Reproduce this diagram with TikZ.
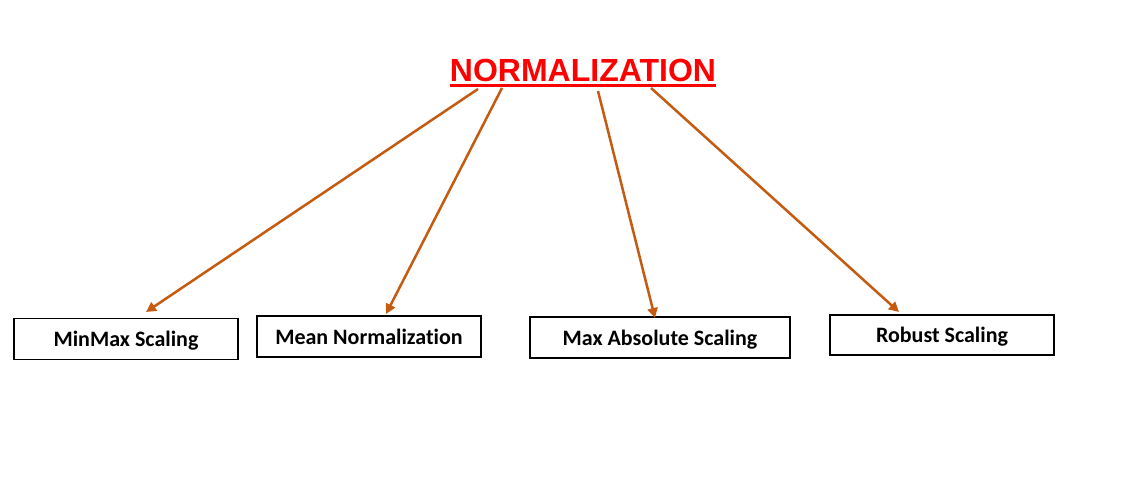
\documentclass[tikz,border=0pt]{standalone}
\usepackage{fontspec}
\setmainfont{Carlito}[Ligatures=NoCommon]
\newfontfamily\titlefont{Liberation Sans}
\usetikzlibrary{arrows.meta}
\definecolor{arr}{HTML}{C55A11}
\definecolor{tred}{HTML}{FF0000}
\begin{document}
\begin{tikzpicture}[x=1pt,y=-1pt,
  box/.style={draw=black,line width=1.6pt,minimum width=224pt,minimum height=41pt,inner sep=0pt,text height=15pt,text depth=0pt,font=\fontsize{22}{24}\selectfont\bfseries},
  conn/.style={draw=arr,line width=2.5pt,-{Triangle[length=10pt,width=10pt]}}]
\useasboundingbox (0,0) rectangle (1143,481);
\fill[white] (0,0) rectangle (1143,481);
\node[font=\titlefont\fontsize{32}{36}\selectfont\bfseries,text=tred,inner sep=0pt] (title) at (583,70) {NORMALIZATION};
\draw[tred,line width=3pt] (title.south west)++(0,4) coordinate (ul1) -- (title.south east |- ul1) coordinate (ul2);
\node[box] (b1) at (126,339) {MinMax Scaling};
\node[box] (b2) at (369,336.5) {Mean Normalization};
\node[box,minimum width=260pt] (b3) at (660,337.5) {Max Absolute Scaling};
\node[box,minimum height=40pt] (b4) at (942,335) {Robust Scaling};
\coordinate (s1) at (478,89);
\coordinate (s2) at (502,88);
\coordinate (s3) at (598,91);
\coordinate (s4) at (651,88);
\coordinate (e1) at (146,312);
\coordinate (e2) at (386,314);
\coordinate (e3) at (655,318);
\coordinate (e4) at (899,312);
\draw[conn] (s1) -- (e1);
\draw[conn] (s2) -- (e2);
\draw[conn] (s3) -- (e3);
\draw[conn] (s4) -- (e4);
\end{tikzpicture}
\end{document}
